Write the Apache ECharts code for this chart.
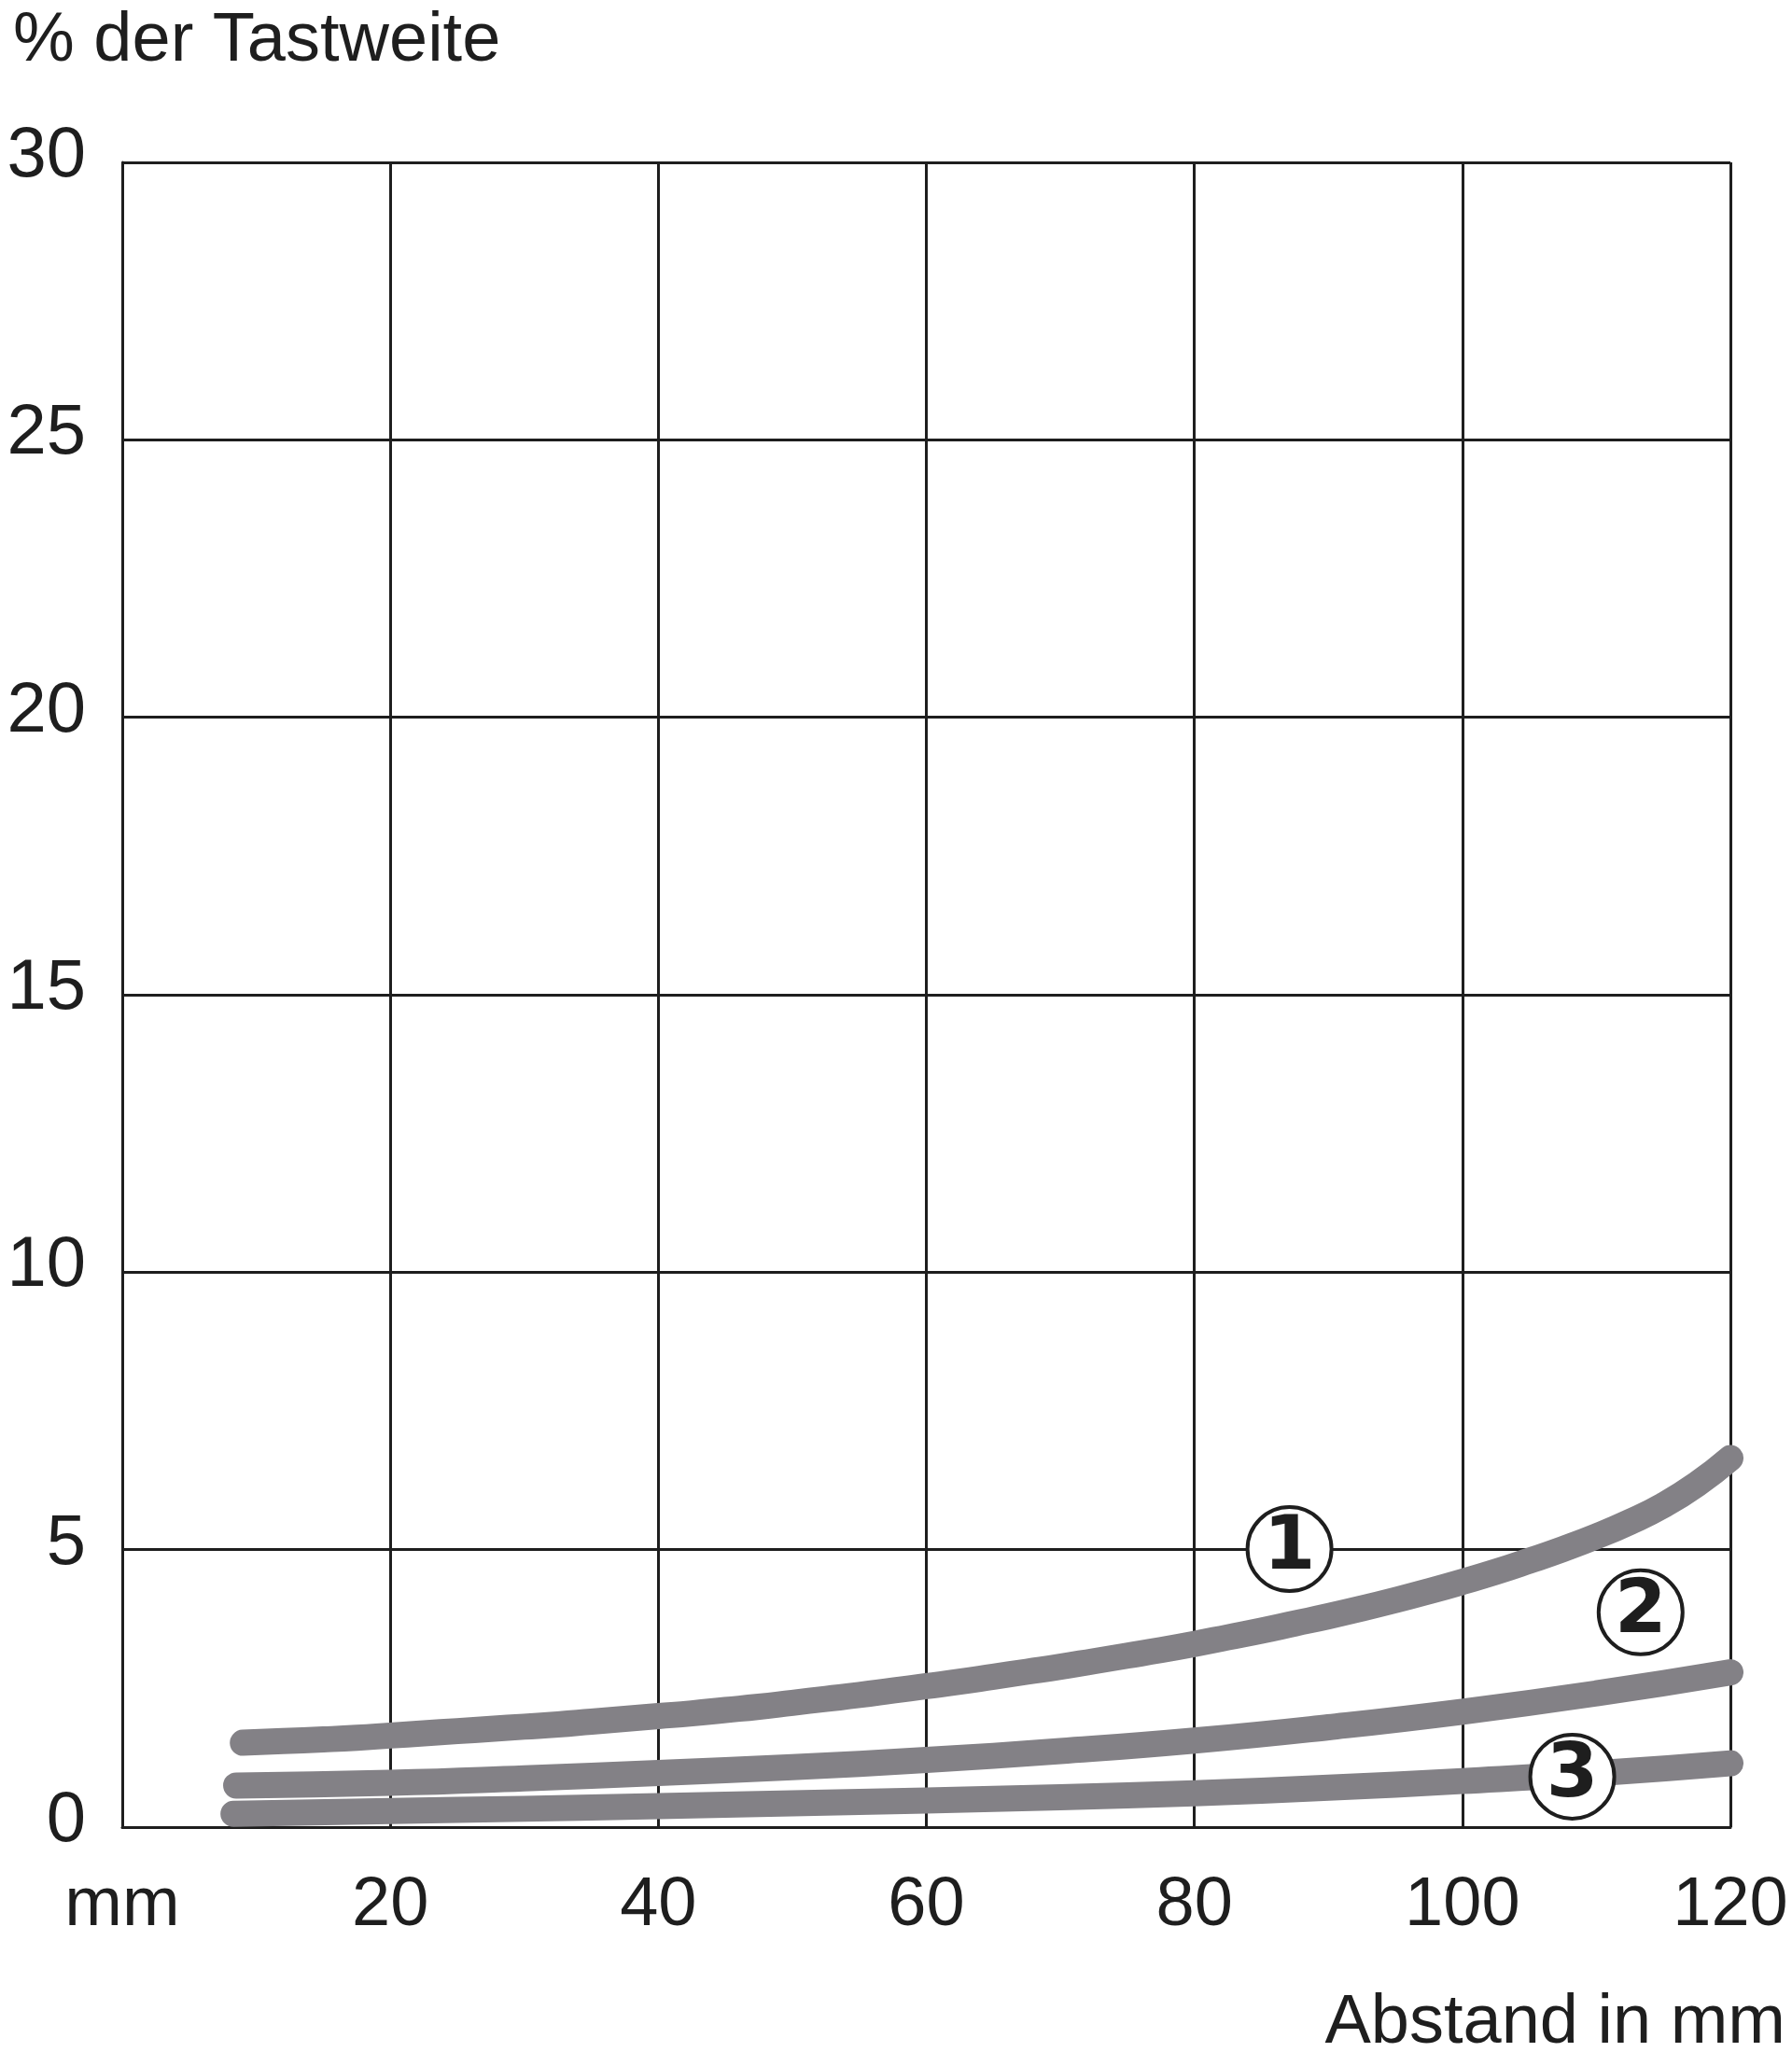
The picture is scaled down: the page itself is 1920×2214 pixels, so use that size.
<!DOCTYPE html>
<html>
<head>
<meta charset="utf-8">
<script src="https://cdn.jsdelivr.net/npm/echarts@6/dist/echarts.min.js"></script>
<style>
html,body{margin:0;padding:0;background:#fff;}
#chart{width:1920px;height:2214px;}
</style>
</head>
<body>
<div id="chart"></div>
<script>
// Data
const xTicks = [0, 20, 40, 60, 80, 100, 120];
const yTicks = [0, 5, 10, 15, 20, 25, 30];
const curve1 = [[9,1.52],[12,1.55],[15,1.58],[17.5,1.61],[20,1.65],[22.5,1.69],[25,1.73],[27.5,1.77],[30,1.81],[32.5,1.85],[35,1.9],[37.5,1.95],[40,2.0],[42.5,2.05],[45,2.11],[47.5,2.17],[50,2.24],[52.5,2.31],[55,2.38],[57.5,2.46],[60,2.54],[62.5,2.62],[65,2.71],[67.5,2.8],[70,2.89],[72.5,2.99],[75,3.09],[77.5,3.19],[80,3.3],[82.5,3.42],[85,3.54],[87.5,3.67],[90,3.8],[92.5,3.94],[95,4.09],[97.5,4.25],[100,4.42],[102.5,4.6],[105,4.8],[107.5,5.01],[110,5.24],[112.5,5.5],[115,5.8],[117.5,6.18],[120,6.65]];
const curve2 = [[8.5,0.75],[20,0.80],[30,0.88],[40,0.975],[50,1.08],[60,1.21],[70,1.37],[80,1.56],[90,1.80],[100,2.08],[110,2.41],[120,2.79]];
const curve3 = [[8.3,0.24],[20,0.29],[30,0.33],[40,0.38],[50,0.43],[60,0.48],[70,0.54],[80,0.61],[90,0.71],[100,0.83],[110,0.97],[120,1.15]];
const markers = [[87.1,5.01,'1'],[113.3,3.87,'2'],[108.2,0.91,'3']];
const yTitle = '% der Tastweite';
const xTitle = 'Abstand in mm';
const xZeroLabel = 'mm';

const lineColor = '#838186';
const ink = '#1e1e1e';
const font = '"Liberation Sans", Arial, sans-serif';

function curve(data){
  return {
    type:'line', data:data, smooth:0.5, symbol:'none', z:3,
    lineStyle:{color:lineColor, width:28, cap:'round', join:'round'}
  };
}

const chart = echarts.init(document.getElementById('chart'), null, {renderer:'canvas'});
chart.setOption({
  backgroundColor:'#fff',
  animation:false,
  grid:{left:131, right:66, top:174, bottom:256, outerBoundsMode:'none'},
  xAxis:{
    type:'value', min:xTicks[0], max:xTicks[xTicks.length-1], interval:20,
    axisLine:{show:true, lineStyle:{color:ink, width:3}},
    axisTick:{show:false},
    splitLine:{show:true, lineStyle:{color:ink, width:3}},
    axisLabel:{
      margin:48, fontSize:74, fontFamily:font, color:ink, lineHeight:74,
      formatter:function(v){ return v===0 ? xZeroLabel : String(v); }
    }
  },
  yAxis:{
    type:'value', min:yTicks[0], max:yTicks[yTicks.length-1], interval:5,
    axisLine:{show:true, lineStyle:{color:ink, width:3}},
    axisTick:{show:false},
    splitLine:{show:true, lineStyle:{color:ink, width:3}},
    axisLabel:{margin:39, color:ink,
      formatter:function(v){ return '{a|' + v + '}'; },
      rich:{a:{fontSize:76, fontFamily:font, color:ink, lineHeight:76, padding:[0,0,12,0]}}
    }
  },
  series:[
    curve(curve1), curve(curve2), curve(curve3),
    {
      type:'scatter', z:5,
      data:markers.map(m=>[m[0],m[1],m[2]]),
      symbol:'circle', symbolSize:90,
      itemStyle:{color:'#fff', borderColor:ink, borderWidth:4, opacity:1},
      label:{show:true, position:'inside', formatter:function(p){return p.value[2];},
        fontSize:80, fontWeight:'bold', fontFamily:'"DejaVu Sans", sans-serif', color:ink}
    }
  ],
  graphic:[
    {type:'text', left:14, top:8, style:{text:yTitle, font:'74px '+font, fill:ink}},
    {type:'text', right:7, top:2132, style:{text:xTitle, font:'74px '+font, fill:ink}}
  ]
});
</script>
</body>
</html>
